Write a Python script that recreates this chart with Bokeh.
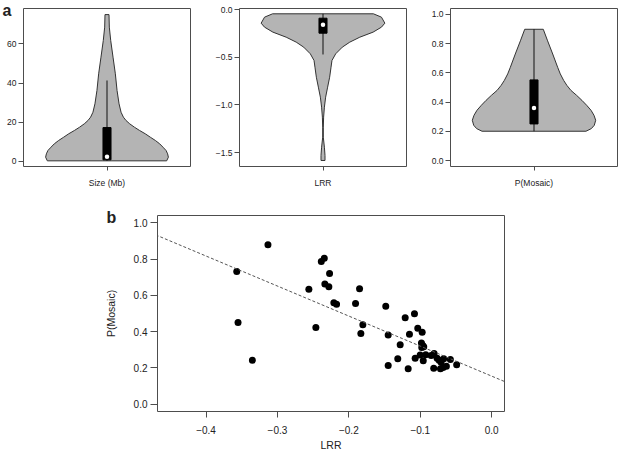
from bokeh.plotting import figure
from bokeh.models import Range1d, FixedTicker, Slope, Spacer
from bokeh.layouts import row, column
from bokeh.embed import file_html
from bokeh.resources import INLINE

# ---------------- data ----------------
# Panel a, violin 1: Size (Mb) -- outline values (bottom->top) and half widths (x units)
size_vals = [0.34, 2.21, 3.91, 5.61, 7.30, 9.0, 10.7, 12.4, 14.1, 15.8, 17.5, 19.2, 20.9,
             22.6, 25.1, 29.4, 36.2, 44.7, 53.2, 61.7, 68.5, 74.9]
size_half = [0.386, 0.397, 0.392, 0.382, 0.362, 0.341, 0.313, 0.280, 0.248, 0.211, 0.177,
             0.147, 0.123, 0.106, 0.091, 0.078, 0.065, 0.054, 0.039, 0.024, 0.015, 0.013]
size_box = [0.85, 17.3]
size_whisker = [0.34, 41.3]
size_median = 2.4

# Panel a, violin 2: LRR
lrr_vals = [-1.581, -1.529, -1.442, -1.337, -1.232, -1.127, -1.023, -0.918, -0.813, -0.709,
            -0.604, -0.534, -0.464, -0.394, -0.342, -0.290, -0.237, -0.185, -0.143, -0.080, -0.045]
lrr_half = [0.013, 0.013, 0.009, 0.002, 0.002, 0.004, 0.009, 0.017, 0.030, 0.043,
            0.052, 0.058, 0.082, 0.125, 0.173, 0.238, 0.324, 0.378, 0.400, 0.378, 0.326]
lrr_box = [-0.248, -0.091]
lrr_whisker = [-0.471, -0.045]
lrr_median = -0.160

# Panel a, violin 3: P(Mosaic)
pm_vals = [0.201, 0.219, 0.242, 0.276, 0.310, 0.344, 0.378, 0.412, 0.446, 0.480, 0.514,
           0.548, 0.593, 0.638, 0.729, 0.819, 0.898]
pm_half = [0.336, 0.371, 0.390, 0.399, 0.388, 0.369, 0.341, 0.310, 0.276, 0.239, 0.213,
           0.192, 0.170, 0.153, 0.121, 0.088, 0.060]
pm_box = [0.251, 0.552]
pm_whisker = [0.201, 0.898]
pm_median = 0.360

size_ticks = [0, 20, 40, 60]
size_tick_labels = ["0", "20", "40", "60"]
lrr_ticks = [-1.5, -1.0, -0.5, 0.0]
lrr_tick_labels = ["\u22121.5", "\u22121.0", "\u22120.5", "0.0"]
pm_ticks = [0.0, 0.2, 0.4, 0.6, 0.8, 1.0]
pm_tick_labels = ["0.0", "0.2", "0.4", "0.6", "0.8", "1.0"]

# Panel b: scatter of LRR vs P(Mosaic)
b_lrr = [-0.3133, -0.357, -0.3552, -0.3351, -0.256, -0.2386, -0.2344, -0.227, -0.2336, -0.228,
         -0.221, -0.2172, -0.2462, -0.185, -0.1906, -0.1804, -0.1832, -0.1483, -0.1449, -0.1449,
         -0.1281, -0.1315, -0.1169, -0.1211, -0.1081, -0.1151, -0.1035, -0.0973, -0.0983, -0.0965,
         -0.0979, -0.0951, -0.1071, -0.1001, -0.0958, -0.0923, -0.0847, -0.0806, -0.0811, -0.0764,
         -0.0736, -0.0708, -0.0671, -0.0717, -0.0680, -0.0634, -0.0578, -0.0490]
b_pm = [0.879, 0.732, 0.451, 0.242, 0.634, 0.787, 0.804, 0.721, 0.663, 0.648,
        0.559, 0.551, 0.423, 0.636, 0.555, 0.438, 0.390, 0.540, 0.381, 0.214,
        0.328, 0.251, 0.196, 0.476, 0.498, 0.385, 0.419, 0.396, 0.337, 0.323,
        0.312, 0.317, 0.254, 0.271, 0.240, 0.273, 0.269, 0.280, 0.199, 0.254,
        0.242, 0.232, 0.251, 0.196, 0.203, 0.210, 0.247, 0.218]
fit_intercept = 0.155
fit_slope = -1.654

b_xticks = [-0.4, -0.3, -0.2, -0.1, 0.0]
b_xtick_labels = ["\u22120.4", "\u22120.3", "\u22120.2", "\u22120.1", "0.0"]
b_yticks = [0.0, 0.2, 0.4, 0.6, 0.8, 1.0]
b_ytick_labels = ["0.0", "0.2", "0.4", "0.6", "0.8", "1.0"]

# ---------------- styling ----------------
FONT = "Liberation Sans"
TXT = "#222222"
GREY = "#b4b4b4"
FRAME = "#4d4d4d"
BOX_HALF = 0.026
FRAME_W = 167
TOP_H = 192
B_H = 263


def style_axes(p, tick_font, xt_out, yt_out, x_standoff, y_standoff):
    p.grid.visible = False
    p.outline_line_color = FRAME
    p.outline_line_width = 1
    p.background_fill_color = "white"
    p.border_fill_color = "white"
    for ax in (p.xaxis[0], p.yaxis[0]):
        ax.axis_line_color = None
        ax.major_tick_line_color = FRAME
        ax.major_tick_in = 0
        ax.minor_tick_line_color = None
        ax.major_label_text_font = FONT
        ax.major_label_text_font_size = tick_font
        ax.major_label_text_color = TXT
    p.xaxis[0].major_tick_out = xt_out
    p.yaxis[0].major_tick_out = yt_out
    p.xaxis[0].major_label_standoff = x_standoff
    p.yaxis[0].major_label_standoff = y_standoff


def panel_letter(p, letter, size, offset, standoff):
    p.title.text = letter
    p.title.text_font = FONT
    p.title.text_font_size = size
    p.title.text_font_style = "bold"
    p.title.text_color = TXT
    p.title.align = "left"
    p.title.vertical_align = "bottom"
    p.title.offset = offset
    p.title.standoff = standoff


def violin(vals, half, box, whisker, median, yr, ticks, tick_labels, name, bl, br):
    p = figure(width=bl + FRAME_W + br, height=TOP_H, x_range=Range1d(0.46, 1.54),
               y_range=Range1d(*yr), output_backend="svg", toolbar_location=None,
               min_border_left=bl, min_border_right=br, min_border_top=8, min_border_bottom=26)
    xs = [1 - h for h in half] + [1 + h for h in reversed(half)]
    ys = list(vals) + list(reversed(vals))
    p.patch(xs, ys, fill_color=GREY, line_color="#333333", line_width=1)
    p.segment(x0=[1], y0=[whisker[0]], x1=[1], y1=[whisker[1]], line_color="#111111", line_width=1)
    p.quad(left=[1 - BOX_HALF], right=[1 + BOX_HALF], bottom=[box[0]], top=[box[1]],
           fill_color="black", line_color="black")
    p.scatter([1], [median], size=4.5, fill_color="white", line_color=None)
    style_axes(p, "8.5px", 4, 5, 7, 2)
    p.xaxis[0].ticker = FixedTicker(ticks=[1])
    p.xaxis[0].major_label_overrides = {1: name}
    p.yaxis[0].ticker = FixedTicker(ticks=ticks)
    p.yaxis[0].major_label_overrides = dict(zip(ticks, tick_labels))
    return p


p1 = violin(size_vals, size_half, size_box, size_whisker, size_median, (-2.55, 78.0),
            size_ticks, size_tick_labels, "Size (Mb)", 23, 19)
p2 = violin(lrr_vals, lrr_half, lrr_box, lrr_whisker, lrr_median, (-1.644, 0.0105),
            lrr_ticks, lrr_tick_labels, "LRR", 30, 10)
p3 = violin(pm_vals, pm_half, pm_box, pm_whisker, pm_median, (-0.04, 1.04),
            pm_ticks, pm_tick_labels, "P(Mosaic)", 34, 2)
panel_letter(p1, "a", "16px", -21, -20)

# Panel b
b_xr = (-0.468, 0.018)
b_yr = (-0.04, 1.04)
pb = figure(width=57 + 347 + 10, height=B_H, x_range=Range1d(*b_xr),
            y_range=Range1d(*b_yr), output_backend="svg", toolbar_location=None,
            min_border_left=57, min_border_right=10, min_border_top=23, min_border_bottom=44)
pb.add_layout(Slope(gradient=fit_slope, y_intercept=fit_intercept, line_color="#555555",
                    line_width=1, line_dash="3 2"))
pb.scatter(b_lrr, b_pm, size=7, fill_color="black", line_color=None)
style_axes(pb, "10px", 6, 7, 8, 3)
pb.xaxis[0].ticker = FixedTicker(ticks=b_xticks)
pb.xaxis[0].major_label_overrides = dict(zip(b_xticks, b_xtick_labels))
pb.yaxis[0].ticker = FixedTicker(ticks=b_yticks)
pb.yaxis[0].major_label_overrides = dict(zip(b_yticks, b_ytick_labels))
pb.xaxis[0].axis_label = "LRR"
pb.yaxis[0].axis_label = "P(Mosaic)"
for ax in (pb.xaxis[0], pb.yaxis[0]):
    ax.axis_label_text_font = FONT
    ax.axis_label_text_font_size = "10.5px"
    ax.axis_label_text_font_style = "normal"
    ax.axis_label_text_color = TXT
pb.xaxis[0].axis_label_standoff = 2
pb.yaxis[0].axis_label_standoff = 14
panel_letter(pb, "b", "16px", -51, -20)

layout = column(row(p1, p2, p3), row(Spacer(width=100, height=B_H), pb))
open("out.html", "w").write(file_html(layout, INLINE))
